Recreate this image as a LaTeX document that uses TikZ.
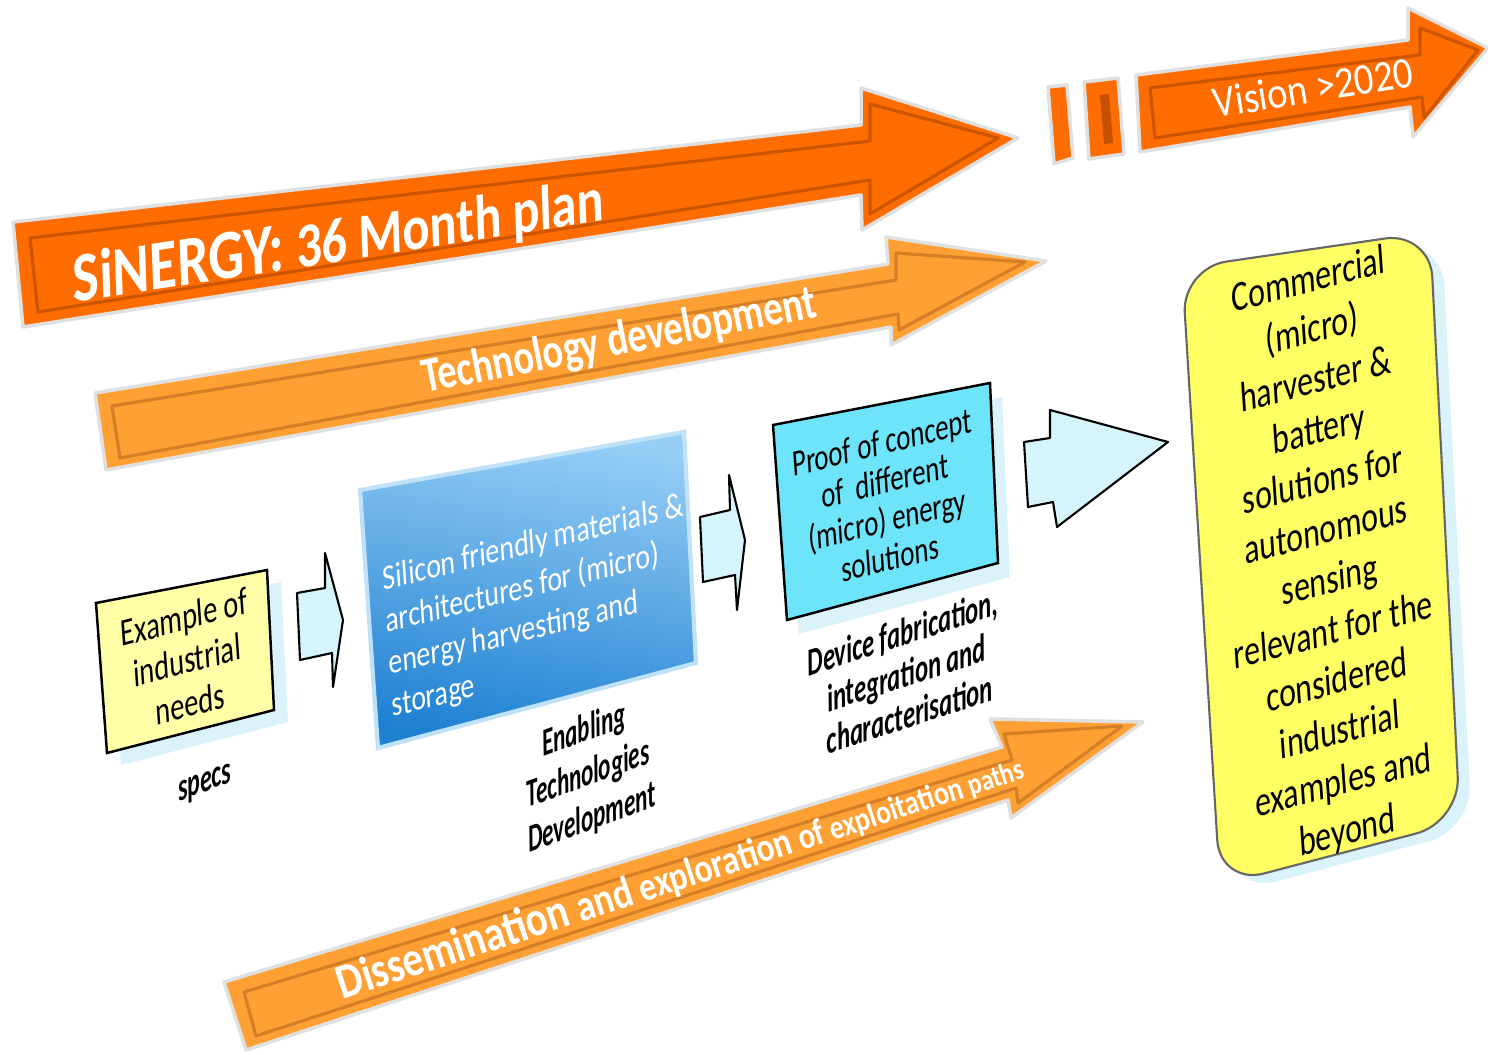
\documentclass[tikz,border=0pt]{standalone}
\usepackage{fontspec}
\setmainfont{Carlito}
\definecolor{planorange}{RGB}{255,108,0}
\definecolor{planbevel}{RGB}{170,70,0}
\definecolor{techorange}{RGB}{255,160,52}
\definecolor{techbevel}{RGB}{185,105,30}
\definecolor{needyellow}{RGB}{255,255,168}
\definecolor{goalyellow}{RGB}{255,255,100}
\definecolor{proofcyan}{RGB}{110,228,250}
\definecolor{stepcyan}{RGB}{214,244,252}
\definecolor{glowblue}{RGB}{218,242,250}
\definecolor{enablelight}{RGB}{150,206,245}
\definecolor{enabledark}{RGB}{30,128,210}
\tikzset{
  bigarrow/.style={fill=#1,draw=black!12,line width=1pt,line join=round},
  bevel/.style={draw=#1,line width=0.9pt,opacity=0.6,line join=round},
  box/.style={draw=black,line width=0.7pt},
  glow/.style={fill=glowblue},
  steparrow/.style={fill=stepcyan,draw=black,line width=0.6pt,line join=round},
  tilt/.style={rotate=4,yslant=#1},
  lbl/.style={xscale=#1,inner sep=0pt,align=center},
  lbl/.default=0.78
}
\begin{document}
\begin{tikzpicture}[x=0.01cm,y=-0.01cm]
\useasboundingbox (0,0) rectangle (1488,1055);
% big orange arrows
\draw[bigarrow=planorange](13,222)--(861,125)--(861,88)--(1018,138)--(862,230)--(861,195)--(23,327)--cycle;
\draw[bevel=planbevel](30,238)--(870,141)--(870,104)--(998,138)--(870,214)--(870,180)--(38,312)--cycle;
\draw[bigarrow=planorange](1048,87)--(1067,85)--(1073,158)--(1054,164)--cycle;
\draw[bigarrow=planorange](1084,82)--(1118,78)--(1124,154)--(1089,159)--cycle;
\fill[planbevel,opacity=0.7](1100,95)--(1109,94)--(1113,143)--(1104,144)--cycle;
\draw[bigarrow=planorange](1136,75)--(1408,40)--(1408,8)--(1488,48)--(1413,137)--(1410,107)--(1140,152)--cycle;
\draw[bevel=planbevel](1150,88)--(1420,55)--(1420,28)--(1478,50)--(1424,118)--(1422,97)--(1155,138)--cycle;
\draw[bigarrow=techorange](95,393)--(888,264)--(886,237)--(1046,261)--(891,345)--(891,327)--(106,470)--cycle;
\draw[bevel=techbevel](112,406)--(896,280)--(896,253)--(1025,262)--(899,330)--(898,314)--(120,458)--cycle;
\draw[bigarrow=techorange](224,982)--(1002,747)--(990,719)--(1143,722)--(1011,818)--(1008,800)--(246,1050)--cycle;
\draw[bevel=techbevel](244,992)--(1012,760)--(1004,734)--(1122,726)--(1018,803)--(1016,788)--(256,1036)--cycle;
% boxes
\fill[glow](110,615)--(281,582)--(288,722)--(121,765)--cycle;
\draw[box,fill=needyellow](96,603)--(267,570)--(274,710)--(107,753)--cycle;
\draw[steparrow](297,593)--(325,588)--(325,553)--(343,620)--(333,687)--(332,653)--(300,660)--cycle;
\shade[top color=enablelight,bottom color=enabledark,shading angle=-10](360,490)--(684,432)--(696,663)--(378,748)--cycle;
\draw[enablelight!60!white,line width=1.2pt](360,490)--(684,432)--(696,663)--(378,748)--cycle;
\draw[steparrow](700,517)--(730,510)--(729,475)--(745,540)--(737,610)--(735,575)--(703,582)--cycle;
\fill[glow](785,439)--(1002,397)--(1010,577)--(799,634)--cycle;
\draw[box,fill=proofcyan](773,425)--(990,383)--(998,563)--(787,620)--cycle;
\draw[steparrow](1024,442)--(1050,438)--(1050,410)--(1168,442)--(1057,527)--(1053,502)--(1028,507)--cycle;
\fill[glow,rounded corners=0.45cm](1194,276)--(1442,240)--(1472,830)--(1232,893)--cycle;
\draw[draw=black!60,line width=0.6pt,fill=goalyellow,rounded corners=0.45cm](1182,268)--(1430,232)--(1460,822)--(1220,885)--cycle;
% labels
\node[rotate=2,yslant=0.12,lbl=0.8,anchor=base west,text=white,font=\bfseries](plan)at(73,303){{\fontsize{20}{24}\selectfont SiNERGY: }{\fontsize{18}{22}\selectfont 36 Month plan}};
\node[rotate=9,lbl=0.88,anchor=base west,text=white,font=\fontsize{12.5}{15}\selectfont](vision)at(1215,118){Vision >2020};
\node[rotate=11,lbl,anchor=base west,text=white,font=\fontsize{14}{17}\selectfont\bfseries](tech)at(425,393){Technology development};
\node[rotate=18,lbl=0.83,anchor=base west,text=white,font=\bfseries](dissem)at(342,1000){\fontsize{14}{16}\selectfont Dissemination \fontsize{12.5}{15}\selectfont and \fontsize{11.5}{14}\selectfont exploration \fontsize{10.5}{12}\selectfont of \fontsize{9.5}{11}\selectfont exploitation \fontsize{8.5}{10}\selectfont paths};
\node[tilt=0.19,lbl=0.74,font=\fontsize{11}{12.3}\selectfont](needs)at(187,660){Example of\\industrial\\needs};
\node[tilt=0.176,lbl=0.8,align=left,text=white,font=\fontsize{10}{12}\selectfont](enable)at(538,607){Silicon friendly materials \&\\architectures for (micro)\\energy harvesting and\\storage};
\node[tilt=0.176,lbl=0.73,font=\fontsize{10.5}{11}\selectfont](proof)at(886,500){Proof of concept\\of\ \ different\\(micro) energy\\solutions};
\node[tilt=0.19,lbl=0.76,font=\fontsize{12}{14.3}\selectfont](goal)at(1328,557){Commercial\\(micro)\\harvester \&\\battery\\solutions for\\autonomous\\sensing\\relevant for the\\considered\\industrial\\examples and\\beyond};
\node[rotate=5,yslant=0.27,lbl=0.63,font=\fontsize{11}{12}\selectfont\bfseries\itshape](specs)at(205,785){specs};
\node[rotate=5,yslant=0.27,lbl=0.61,font=\fontsize{11}{12.5}\selectfont\bfseries\itshape](etd)at(588,775){Enabling\\Technologies\\Development};
\node[rotate=5,yslant=0.23,lbl=0.65,font=\fontsize{11}{11.7}\selectfont\bfseries\itshape](fab)at(906,673){Device fabrication,\\integration and\\characterisation};
\end{tikzpicture}
\end{document}
